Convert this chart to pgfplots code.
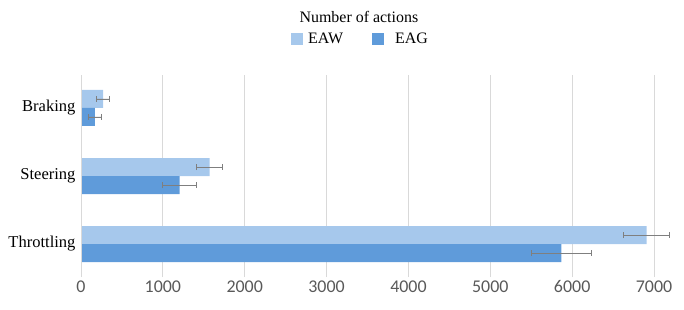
\documentclass[border=0pt]{standalone}
\usepackage{pgfplots}
\pgfplotsset{compat=1.18}
\usepackage{fontspec}
\setmainfont{Liberation Serif}
\newfontfamily\tickfont{Carlito}
\definecolor{eaw}{HTML}{A6C8EC}
\definecolor{eag}{HTML}{5F9BDA}
\definecolor{gridc}{HTML}{D9D9D9}
\definecolor{tickc}{HTML}{595959}
\definecolor{errc}{HTML}{7F7F7F}
\begin{document}
\begin{tikzpicture}[x=1bp,y=1bp]
\useasboundingbox (0,0) rectangle (684,309);
\begin{axis}[
  at={(81bp,32bp)}, anchor=south west,
  scale only axis, width=573bp, height=202bp,
  xbar, bar width=18bp,
  xmin=0, xmax=7000, ymin=-0.485, ymax=2.485,
  clip=false,
  xtick={0,1000,...,7000},
  ytick={0,1,2}, yticklabels={Throttling,Steering,Braking},
  scaled x ticks=false,
  xticklabel style={font=\tickfont\fontsize{18}{21}\selectfont, text=tickc},
  /pgf/number format/assume math mode=true,
  /pgf/number format/1000 sep={},
  yticklabel style={font=\fontsize{16.6}{19}\selectfont, text=black, xshift=-2bp},
  xmajorgrids, grid style={gridc, line width=0.8bp},
  major tick length=0pt,
  axis line style={draw=none},
  separate axis lines,
  legend columns=2,
  legend style={draw=none, fill=none, inner sep=0pt, at={(axis description cs:0.3665,1.178)}, anchor=west,
    font=\fontsize{16}{19}\selectfont,
    nodes={inner xsep=0pt},
    /tikz/every even column/.append style={column sep=29bp}},
  legend image code/.code={\fill[#1] (0bp,-6bp) rectangle (12bp,6bp); \path (17bp,0bp);},
  error bars/error bar style={errc, line width=0.8bp},
  error bars/error mark options={rotate=90, mark size=3bp, errc, line width=0.8bp},
]
\addplot+[fill=eaw, draw=none, bar shift=9bp,
  error bars/.cd, x dir=both, x explicit]
  coordinates {(6911,0) +- (280,0) (1570,1) +- (157,0) (270,2) +- (77,0)};
\addplot+[fill=eag, draw=none, bar shift=-9bp,
  error bars/.cd, x dir=both, x explicit]
  coordinates {(5869,0) +- (367,0) (1205,1) +- (210,0) (170,2) +- (82,0)};
\legend{EAW,\hspace{6bp}EAG}
\draw[gridc, line width=0.8bp] (axis cs:0,-0.485) -- (axis cs:0,2.485);
\node[font=\fontsize{16}{19}\selectfont] at (axis description cs:0.485,1.287) {Number of actions};
\end{axis}
\end{tikzpicture}
\end{document}
